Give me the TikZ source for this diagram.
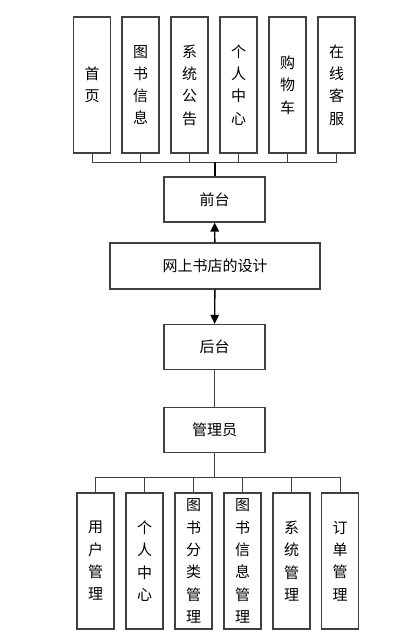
\documentclass[tikz,border=0pt]{standalone}
\usepackage{fontspec}
\newfontfamily\cjk{Noto Sans CJK SC}
\usetikzlibrary{arrows.meta, positioning}
\definecolor{boxgray}{HTML}{404040}

\begin{document}
\begin{tikzpicture}[
    x=1pt, y=-1pt,
    tallbox/.style={draw=boxgray, line width=1.2pt, fill=white, minimum width=37pt, minimum height=136pt, inner sep=0pt, font=\cjk\fontsize{15}{22.3}\selectfont, align=center},
    widebox/.style={draw=boxgray, line width=1.2pt, fill=white, minimum width=101pt, minimum height=45pt, inner sep=0pt, font=\cjk\fontsize{15}{18}\selectfont},
    link/.style={draw=boxgray, line width=0.9pt},
    arrow/.style={-{Triangle[length=9pt, width=8.5pt]}, line width=1.4pt},
]
\useasboundingbox (0,0) rectangle (400,643);

% Front modules
\node[tallbox] (f1) at (92,85) {首\\页};
\node[tallbox] (f2) at (140.5,85) {图\\书\\信\\息};
\node[tallbox] (f3) at (189.5,85) {系\\统\\公\\告};
\node[tallbox] (f4) at (238.5,85) {个\\人\\中\\心};
\node[tallbox] (f5) at (287.5,85) {购\\物\\车};
\node[tallbox] (f6) at (336.5,85) {在\\线\\客\\服};

% Main column
\node[widebox] (qiantai) at (214.5,199.5) {前台};
\node[widebox, minimum width=210pt, minimum height=46pt] (design) at (215,266) {网上书店的设计};
\node[widebox] (houtai) at (214.5,347) {后台};
\node[widebox] (admin) at (214.5,430) {管理员};

% Admin modules
\node[tallbox] (b1) at (95.5,561) {用\\户\\管\\理};
\node[tallbox] (b2) at (144.5,561) {个\\人\\中\\心};
\node[tallbox] (b3) at (193.5,561) {图\\书\\分\\类\\管\\理};
\node[tallbox] (b4) at (242.5,561) {图\\书\\信\\息\\管\\理};
\node[tallbox] (b5) at (291.5,561) {系\\统\\管\\理};
\node[tallbox] (b6) at (340,561) {订\\单\\管\\理};

% Bus points
\coordinate (fbus) at (214.5,162);
\coordinate (bbus) at (214.5,477);

% Arrows
\draw[link] (f1) |- (fbus);
\draw[link] (f2) |- (fbus);
\draw[link] (f3) |- (fbus);
\draw[link] (f4) |- (fbus);
\draw[link] (f5) |- (fbus);
\draw[link] (f6) |- (fbus);
\draw[line width=2pt] (fbus) -- (qiantai);
\draw[arrow] (design) -- (qiantai);
\draw[arrow] (design) -- (houtai);
\draw[link] (houtai) -- (admin);
\draw[link] (admin) -- (bbus);
\draw[link] (bbus) -| (b1);
\draw[link] (bbus) -| (b2);
\draw[link] (bbus) -| (b3);
\draw[link] (bbus) -| (b4);
\draw[link] (bbus) -| (b5);
\draw[link] (bbus) -| (b6);

\end{tikzpicture}
\end{document}
